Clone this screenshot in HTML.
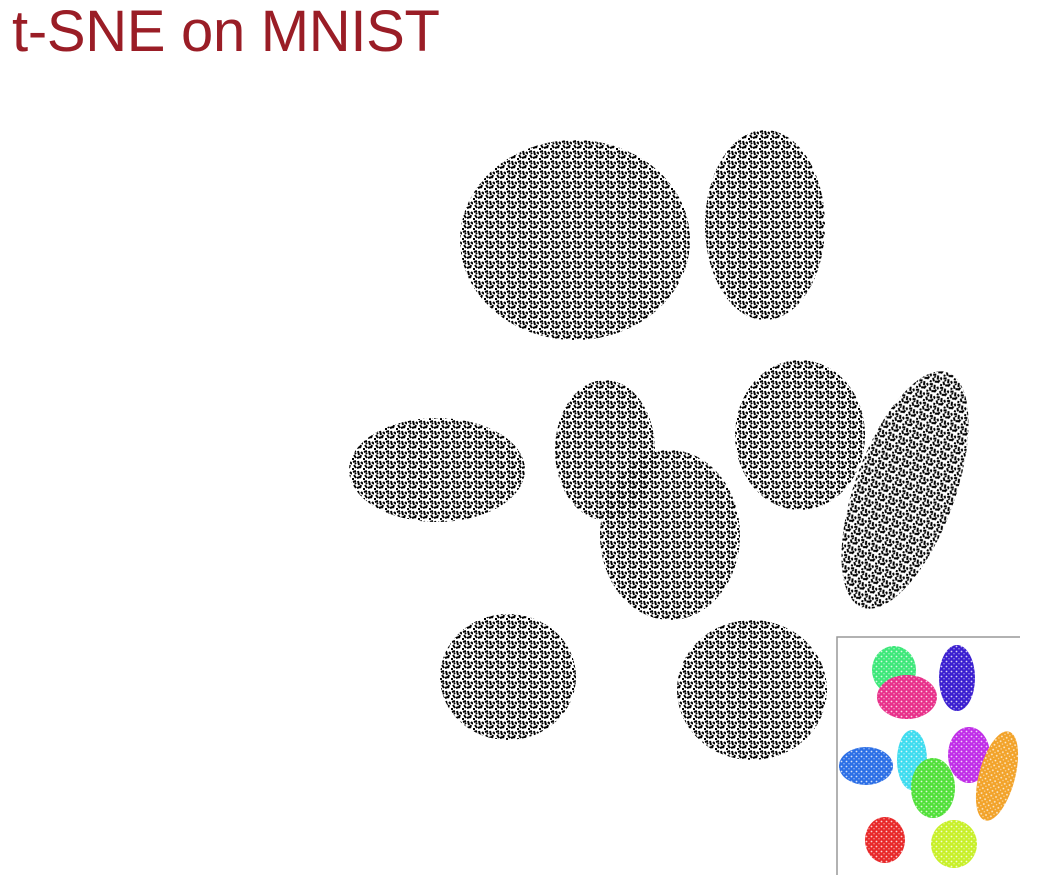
<!DOCTYPE html>
<html><head><meta charset="utf-8"><style>
html,body{margin:0;padding:0;background:#fff;width:1056px;height:892px;overflow:hidden}
#title{position:absolute;left:12px;top:-2px;font-family:"Liberation Sans",sans-serif;font-size:58px;color:#9a1d26;letter-spacing:-0.3px}
svg{position:absolute;left:0;top:0}
</style></head><body>
<div id="title">t-SNE on MNIST</div>
<svg id="chart" width="1056" height="892">
<defs>
<pattern id="digits" width="11" height="10" patternUnits="userSpaceOnUse">
<path d="M1 2 l3 -1 M6 1 l1 4 M9 2 l2 2 M2 5 l2 3 M5 8 l3 -1 M8 8 l1 -3 M0 9 l2 0 M3 3 l1 1" stroke="#000" stroke-width="2" fill="none"/>
</pattern>
<pattern id="dots" width="5" height="5" patternUnits="userSpaceOnUse">
<circle cx="1.5" cy="1.5" r="0.9" fill="#fff" opacity="0.8"/>
<circle cx="4" cy="3.8" r="0.7" fill="#fff" opacity="0.6"/>
</pattern>
</defs>
<g id="main"></g>
<g id="inset">
<path d="M837 875 V637 H1020" stroke="#999" stroke-width="1.5" fill="none"/>
</g>
</svg>
<script>
// cluster data: digit clusters (center x, center y, radius x, radius y, rotation)
const clusterIds = [0,1,2,3,4,5,6,7,8];
const clusterCx = [575,765,437,605,670,800,905,508,752];
const clusterCy = [240,225,470,450,535,435,490,677,690];
const clusterRx = [115,60,88,50,70,65,50,68,75];
const clusterRy = [100,95,52,70,85,75,125,63,70];
const clusterRot = [0,0,0,0,0,0,20,0,0];

const insetCx = [894,907,957,866,912,933,969,997,885,954];
const insetCy = [670,697,678,766,760,788,755,776,840,844];
const insetRx = [22,30,18,27,15,22,21,18,20,23];
const insetRy = [24,22,33,19,30,30,28,46,23,24];
const insetRot = [0,0,0,0,0,0,0,15,0,0];
const insetColors = ['#3ee87a','#e8318a','#3b1fd0','#2c6fe6','#3fdcef','#52e03a','#c02ee8','#f2a32a','#e8292a','#c8f02a'];

const NS='http://www.w3.org/2000/svg';
const main=document.getElementById('main');
clusterIds.forEach((id,i)=>{
  const e=document.createElementNS(NS,'ellipse');
  e.setAttribute('cx',clusterCx[i]);e.setAttribute('cy',clusterCy[i]);
  e.setAttribute('rx',clusterRx[i]);e.setAttribute('ry',clusterRy[i]);
  e.setAttribute('transform','rotate('+clusterRot[i]+' '+clusterCx[i]+' '+clusterCy[i]+')');
  e.setAttribute('fill','url(#digits)');
  
  
  main.appendChild(e);
});
const inset=document.getElementById('inset');
insetCx.forEach((cx,i)=>{
  const t='rotate('+insetRot[i]+' '+cx+' '+insetCy[i]+')';
  const e=document.createElementNS(NS,'ellipse');
  e.setAttribute('cx',cx);e.setAttribute('cy',insetCy[i]);
  e.setAttribute('rx',insetRx[i]);e.setAttribute('ry',insetRy[i]);
  e.setAttribute('transform',t);
  e.setAttribute('fill',insetColors[i]);
  
  
  inset.appendChild(e);
  const d=document.createElementNS(NS,'ellipse');
  d.setAttribute('cx',cx);d.setAttribute('cy',insetCy[i]);
  d.setAttribute('rx',insetRx[i]);d.setAttribute('ry',insetRy[i]);
  d.setAttribute('transform',t);
  d.setAttribute('fill','url(#dots)');
  
  
  inset.appendChild(d);
});
</script>
</body></html>
